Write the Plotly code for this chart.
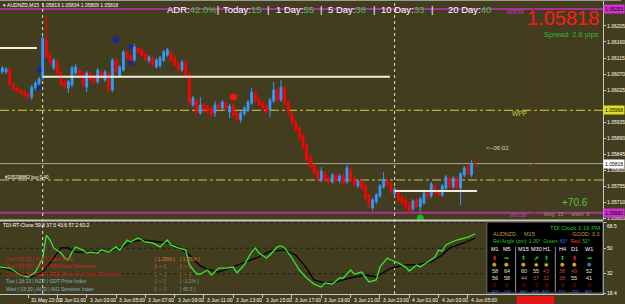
import plotly.graph_objects as go

# ---------------- data ----------------
bar_index = list(range(-12, 119))   # 15-minute bars; 0 = 3 Jun 00:00
opens = [1.06073,1.06076,1.06076,1.06084,1.06042,1.06031,1.06025,1.06019,1.06014,1.06005,1.06031,1.06042,
 1.06059,1.06166,1.06123,1.06087,1.06104,1.06076,1.06048,1.06031,1.06039,1.06073,1.06081,1.06070,1.06033,1.06073,
 1.06062,1.06048,1.06076,1.06053,1.06073,1.06025,1.06109,1.06064,1.06081,1.06132,1.06121,1.06109,1.06143,1.06138,
 1.06126,1.06107,1.06115,1.06090,1.06093,1.06109,1.06123,1.06132,1.06115,1.06101,1.06081,1.06104,1.06070,1.05983,
 1.05994,1.05960,1.05983,1.05977,1.05974,1.05960,1.05983,1.05974,1.05988,1.05963,1.05983,1.05960,1.05941,1.05958,
 1.05969,1.05988,1.06017,1.06000,1.05988,1.05980,1.05969,1.05994,1.06025,1.05997,1.06031,1.05991,1.05960,1.05935,
 1.05918,1.05896,1.05870,1.05837,1.05814,1.05797,1.05772,1.05792,1.05777,1.05766,1.05786,1.05769,1.05783,1.05766,
 1.05800,1.05777,1.05755,1.05769,1.05755,1.05730,1.05693,1.05710,1.05727,1.05752,1.05769,1.05761,1.05733,1.05744,
 1.05724,1.05716,1.05704,1.05690,1.05716,1.05696,1.05707,1.05735,1.05727,1.05755,1.05741,1.05730,1.05749,1.05777,
 1.05752,1.05777,1.05749,1.05786,1.05808,1.05786,1.05819]
highs = [1.06087,1.06093,1.06090,1.06087,1.06045,1.06036,1.06028,1.06025,1.06019,1.06039,1.06050,1.06062,
 1.06177,1.06236,1.06132,1.06115,1.06109,1.06081,1.06053,1.06053,1.06093,1.06098,1.06087,1.06076,1.06078,1.06078,
 1.06067,1.06087,1.06081,1.06081,1.06078,1.06115,1.06118,1.06095,1.06138,1.06138,1.06126,1.06155,1.06149,1.06143,
 1.06132,1.06123,1.06121,1.06115,1.06121,1.06138,1.06143,1.06138,1.06121,1.06107,1.06109,1.06109,1.06076,1.06008,
 1.06000,1.06005,1.05988,1.05983,1.05980,1.05994,1.05988,1.05997,1.05994,1.05986,1.05988,1.05966,1.05966,1.05980,
 1.05997,1.06031,1.06022,1.06005,1.05994,1.05986,1.06003,1.06048,1.06031,1.06053,1.06036,1.05997,1.05966,1.05941,
 1.05924,1.05901,1.05876,1.05842,1.05820,1.05803,1.05808,1.05797,1.05783,1.05792,1.05792,1.05789,1.05789,1.05814,
 1.05806,1.05783,1.05775,1.05775,1.05761,1.05735,1.05721,1.05735,1.05761,1.05794,1.05775,1.05766,1.05752,1.05749,
 1.05730,1.05721,1.05710,1.05718,1.05721,1.05724,1.05741,1.05741,1.05766,1.05761,1.05747,1.05761,1.05786,1.05783,
 1.05783,1.05783,1.05794,1.05811,1.05814,1.05828,1.05834]
lows = [1.06067,1.06070,1.06070,1.06036,1.06022,1.06017,1.06011,1.06005,1.06000,1.05997,1.06025,1.06036,
 1.06053,1.06115,1.06095,1.06081,1.06067,1.06036,1.06028,1.06017,1.06033,1.06067,1.06059,1.06033,1.06019,1.06048,
 1.06039,1.06042,1.06053,1.06048,1.06019,1.06019,1.06070,1.06059,1.06076,1.06112,1.06104,1.06104,1.06126,1.06115,
 1.06104,1.06101,1.06090,1.06084,1.06087,1.06104,1.06118,1.06104,1.06090,1.06076,1.06076,1.06062,1.05983,1.05977,
 1.05955,1.05955,1.05963,1.05958,1.05949,1.05949,1.05969,1.05969,1.05969,1.05946,1.05949,1.05935,1.05932,1.05952,
 1.05963,1.05983,1.05988,1.05977,1.05969,1.05958,1.05949,1.05988,1.05991,1.05991,1.05983,1.05955,1.05927,1.05907,
 1.05884,1.05859,1.05823,1.05803,1.05786,1.05772,1.05766,1.05766,1.05761,1.05761,1.05763,1.05763,1.05758,1.05761,
 1.05766,1.05752,1.05749,1.05744,1.05716,1.05693,1.05685,1.05704,1.05721,1.05747,1.05752,1.05733,1.05727,1.05710,
 1.05702,1.05690,1.05679,1.05685,1.05693,1.05682,1.05702,1.05718,1.05721,1.05730,1.05724,1.05724,1.05744,1.05747,
 1.05747,1.05744,1.05702,1.05780,1.05786,1.05780,1.05809]
closes = [1.06081,1.06087,1.06084,1.06042,1.06028,1.06022,1.06017,1.06011,1.06005,1.06033,1.06045,1.06056,
 1.06171,1.06118,1.06101,1.06109,1.06073,1.06042,1.06033,1.06048,1.06087,1.06090,1.06064,1.06039,1.06073,1.06053,
 1.06048,1.06081,1.06059,1.06076,1.06025,1.06109,1.06076,1.06090,1.06132,1.06118,1.06109,1.06146,1.06132,1.06121,
 1.06109,1.06118,1.06095,1.06109,1.06115,1.06132,1.06138,1.06109,1.06095,1.06081,1.06104,1.06067,1.05988,1.06003,
 1.05960,1.05983,1.05969,1.05963,1.05955,1.05983,1.05974,1.05991,1.05974,1.05980,1.05955,1.05941,1.05960,1.05974,
 1.05991,1.06019,1.05994,1.05983,1.05974,1.05963,1.05997,1.06025,1.05997,1.06033,1.05988,1.05960,1.05932,1.05913,
 1.05890,1.05865,1.05828,1.05808,1.05792,1.05777,1.05797,1.05772,1.05766,1.05786,1.05769,1.05783,1.05763,1.05806,
 1.05772,1.05758,1.05769,1.05749,1.05721,1.05699,1.05716,1.05730,1.05755,1.05772,1.05758,1.05738,1.05747,1.05716,
 1.05707,1.05696,1.05685,1.05713,1.05699,1.05718,1.05735,1.05724,1.05761,1.05735,1.05730,1.05755,1.05780,1.05752,
 1.05777,1.05749,1.05789,1.05806,1.05792,1.05817,1.05818]

time_tick_bars = [-12, -4, 4, 12, 20, 28, 36, 44, 52, 60, 68, 76, 84, 92, 100, 108, 116]
time_tick_labels = ["31 May 2019", "31 May 23:00", "3 Jun 01:00", "3 Jun 03:00", "3 Jun 05:00",
                    "3 Jun 07:00", "3 Jun 09:00", "3 Jun 11:00", "3 Jun 13:00", "3 Jun 15:00",
                    "3 Jun 17:00", "3 Jun 19:00", "3 Jun 21:00", "3 Jun 23:00", "4 Jun 01:00",
                    "4 Jun 03:00", "4 Jun 05:00"]
price_ticks = [1.06205, 1.06160, 1.06115, 1.06070, 1.06025, 1.05935, 1.05890,
               1.05845, 1.05800, 1.05755, 1.05710, 1.05665]

# pivot / level lines
wr38, wpp, ws38 = 1.06253, 1.05968, 1.05680
order_level = 1.05772
bid_price = 1.05818
session_levels = [1.06143, 1.06062, 1.05741]
session_from = [-12, 0, 96]
session_to = [-1.6, 94.7, 118.5]
separator_bars = [0, 96]
marker_bar = 134

# fractal / signal dots
blue_dot_bars = [-1, -1, 24, 24]
blue_dot_prices = [1.06081, 1.06031, 1.06146, 1.06101]
big_dot_bars = [20, 52, 103]
big_dot_prices = [1.06166, 1.06005, 1.05665]
big_dot_colors = ["#24249a", "#ff1010", "#10c010"]

# TDI sub-window
green_bars = [-12,-9,-6,-4,-2,0,1,2,3,5,6,7,8,9,11,12,13,15,16,18,20,21,23,24,26,28,30,32,34,35,37,39,40,42,43,45,46,48,50,52,
              53,55,57,58,59,61,62,64,65,66,68,70,72,74,76,77,79,81,82,84,85,87,89,91,92,94,95,97,99,100,102,103,105,107,108,
              109,110,111,113,115,116,118]
green_vals = [36.7,36.0,31.1,29.7,33.2,43.1,59.3,55.8,50.2,46.6,43.1,41.7,47.3,50.9,48.7,46.6,47.3,46.6,48.7,47.3,50.9,48.7,
              55.8,54.4,57.2,54.4,53.7,50.9,55.8,52.3,50.2,48.7,38.2,31.8,31.8,34.6,31.1,36.0,36.0,36.7,32.5,38.2,47.3,50.2,
              46.6,43.1,45.2,50.9,51.6,50.2,43.1,34.6,29.0,24.7,22.6,25.5,24.7,29.0,29.0,34.6,31.8,33.2,26.2,27.6,36.7,43.1,
              41.7,39.6,36.7,33.9,38.2,36.7,40.3,43.8,48.7,48.0,52.3,53.7,55.8,57.2,57.9,60.2]
black_bars = [-12,-6,-3,0,3,5,7,9,13,18,22,24,27,31,34,37,40,43,45,48,51,55,59,62,66,69,72,74,77,80,84,88,91,95,99,102,106,
              109,111,115,118]
black_vals = [36.7,32.5,29.7,33.2,43.1,50.2,50.2,47.3,47.3,48.0,50.9,54.4,55.8,54.4,53.7,50.9,45.2,37.5,35.0,33.2,36.0,39.6,
              43.8,48.0,48.7,45.2,36.0,27.6,25.5,26.2,29.0,31.1,29.7,36.0,38.2,38.2,40.3,45.2,50.2,53.7,57.2]
tdi_levels = [68, 50, 32]
tdi_ticks = [68.5, 50, 32, 18.4]
tdi_ticktext = ["", "50", "32", "18.4"]
tdi_top_label = "68.5"

# ---------------- styling helpers ----------------
W, H = 625, 304
ML, MR, MT, MB = 0, 18, 0, 10
PW, PH = W - ML - MR, H - MT - MB
BG = "#433d1f"
FONT = "Liberation Sans, Arial, sans-serif"

def px(p):
    return p / PW

def py(p):
    return 1 - p / PH

fig = go.Figure()

fig.add_trace(go.Candlestick(
    x=bar_index, open=opens, high=highs, low=lows, close=closes,
    increasing=dict(line=dict(color="#3399ff", width=1), fillcolor="#3399ff"),
    decreasing=dict(line=dict(color="#ff0000", width=1), fillcolor="#ff0000"),
    whiskerwidth=0, xaxis="x", yaxis="y", showlegend=False, hoverinfo="skip"))

fig.add_trace(go.Scatter(x=blue_dot_bars, y=blue_dot_prices, mode="markers",
                         marker=dict(color="#22229a", size=5), xaxis="x", yaxis="y",
                         showlegend=False, hoverinfo="skip"))
fig.add_trace(go.Scatter(x=big_dot_bars, y=big_dot_prices, mode="markers",
                         marker=dict(color=big_dot_colors, size=7), xaxis="x", yaxis="y",
                         showlegend=False, hoverinfo="skip"))

fig.add_trace(go.Scatter(x=black_bars, y=black_vals, mode="lines",
                         line=dict(color="#000000", width=1.3), xaxis="x", yaxis="y2",
                         showlegend=False, hoverinfo="skip"))
fig.add_trace(go.Scatter(x=green_bars, y=green_vals, mode="lines",
                         line=dict(color="#33e833", width=1.3), xaxis="x", yaxis="y2",
                         showlegend=False, hoverinfo="skip"))

shapes = []
# horizontal price levels
shapes.append(dict(type="line", xref="paper", x0=0, x1=1, yref="y", y0=wr38, y1=wr38,
                   line=dict(color="#a8329a", width=2), layer="below"))
shapes.append(dict(type="line", xref="paper", x0=0, x1=1, yref="y", y0=ws38, y1=ws38,
                   line=dict(color="#a8329a", width=2), layer="below"))
shapes.append(dict(type="line", xref="paper", x0=0, x1=1, yref="y", y0=wpp, y1=wpp,
                   line=dict(color="#d2d040", width=1, dash="dashdot"), layer="below"))
shapes.append(dict(type="line", xref="paper", x0=0, x1=1, yref="y", y0=order_level, y1=order_level,
                   line=dict(color="#d2c060", width=1, dash="dashdot"), layer="below"))
shapes.append(dict(type="line", xref="paper", x0=0, x1=1, yref="y", y0=bid_price, y1=bid_price,
                   line=dict(color="#a8a898", width=1), layer="below"))
for lv, a, b in zip(session_levels, session_from, session_to):
    shapes.append(dict(type="line", xref="x", x0=a, x1=b, yref="y", y0=lv, y1=lv,
                       line=dict(color="#f0f0e0", width=2)))
# vertical separators
for sb in separator_bars:
    shapes.append(dict(type="line", xref="x", x0=sb, x1=sb, yref="paper", y0=0, y1=1,
                       line=dict(color="#e0e0d0", width=1, dash="dot"), layer="below"))
shapes.append(dict(type="line", xref="x", x0=marker_bar, x1=marker_bar, yref="paper", y0=0, y1=1,
                   line=dict(color="#6e2a1c", width=1), layer="below"))
# TDI levels
for lv in tdi_levels:
    shapes.append(dict(type="line", xref="paper", x0=0, x1=1, yref="y2", y0=lv, y1=lv,
                       line=dict(color="#221f0c", width=1, dash="dot"), layer="below"))
# pane separator and top border
shapes.append(dict(type="line", xref="paper", x0=0, x1=1, yref="paper", y0=py(220.5), y1=py(220.5),
                   line=dict(color="#c8c8c0", width=2)))
shapes.append(dict(type="line", xref="paper", x0=0, x1=1 + MR / PW, yref="paper", y0=py(0.5), y1=py(0.5),
                   line=dict(color="#9a9a90", width=1)))
# dashboard box
shapes.append(dict(type="rect", xref="paper", x0=px(490), x1=1, yref="paper", y0=py(293), y1=py(222),
                   fillcolor="#000000", line=dict(color="#707070", width=1)))
shapes.append(dict(type="line", xref="paper", x0=px(519), x1=px(519), yref="paper", y0=py(292), y1=py(247),
                   line=dict(color="#909090", width=1)))
shapes.append(dict(type="line", xref="paper", x0=px(559), x1=px(559), yref="paper", y0=py(292), y1=py(247),
                   line=dict(color="#909090", width=1)))
# red time marker box on the time scale
shapes.append(dict(type="rect", xref="paper", x0=px(520), x1=px(558), yref="paper", y0=py(304), y1=py(296),
                   fillcolor="#e01818", line=dict(width=0)))

ann = []

def text(x, y, s, size, color, anchor="left", bg=None, family=FONT, yanchor="middle"):
    d = dict(xref="paper", yref="paper", x=px(x), y=py(y), text=s, showarrow=False,
             xanchor=anchor, yanchor=yanchor, font=dict(size=size, color=color, family=family),
             borderpad=0)
    if bg:
        d["bgcolor"] = bg
    ann.append(d)

G = "#3cc83c"
# header
text(2, 5, "▾ AUDNZD,M15  1.05819 1.05834 1.05809 1.05818", 5, "#ffffff")
text(167, 9, "ADR:<span style='color:%s'>42.0%%</span>|" % G, 9.5, "#ffffff")
text(223, 9, "Today:<span style='color:%s'>15</span>" % G, 9.5, "#ffffff")
text(268, 9, "|", 9.5, "#ffffff")
text(277, 9, "1 Day:<span style='color:%s'>55</span>" % G, 9.5, "#ffffff")
text(321, 9, "|", 9.5, "#ffffff")
text(329, 9, "5 Day:<span style='color:%s'>38</span>" % G, 9.5, "#ffffff")
text(374, 9, "|", 9.5, "#ffffff")
text(383, 9, "10 Day:<span style='color:%s'>33</span>" % G, 9.5, "#ffffff")
text(433, 9, "|", 9.5, "#ffffff")
text(450, 9, "20 Day:<span style='color:%s'>40</span>" % G, 9.5, "#ffffff")

text(604, 18, "1.05818", 20, "#ff1a1a", anchor="right")
text(604, 34, "Spread: 2.6 pips", 7.5, "#30b830", anchor="right")
text(509, 12, "WR38", 6, "#c03cc0")
text(514, 113, "WPP", 6.5, "#d0d040")
text(512, 215, "WS38", 6, "#c03cc0")
text(488, 148, "<--06:02", 6, "#d0d0c8")
text(565, 202, "+70.6", 10, "#5cc040")
text(547, 214, "long  15     short  0", 5.5, "#90a060")
text(4, 177, "#105298862 buy 0.40", 4.5, "#ffffff")

# price-scale boxes
def pricebox(p, s, bg, fg="#000000"):
    ann.append(dict(xref="paper", yref="y", x=1.0, y=p, text=s, showarrow=False, xanchor="left",
                    yanchor="middle", font=dict(size=5, color=fg, family=FONT), bgcolor=bg,
                    borderpad=1))
pricebox(wr38, "1.06253", "#d030d0")
pricebox(wpp, "1.05968", "#e0e020")
pricebox(bid_price, "1.05818", "#ffffff")
pricebox(ws38, "1.05680", "#d030d0")

# TDI scale top label (MT4 draws it just below the pane top)
text(610, 225.5, tdi_top_label, 5, "#ffffff")

# TDI window
text(2, 225, "TDI-RT-Clone 59.8 37.5 43.6 57.2 60.2", 5, "#ffffff")
news = [("Tue | 05:30 | AUD | Cash Rate", "#d02020"),
        ("Tue | 05:30 | AUD | RBA Rate Statement", "#d02020"),
        ("Tue | 05:30 | AUD | RBA Monetary Policy Statement", "#d02020"),
        ("Tue | 18:23 | NZD | GDT Price Index", "#78b4d8"),
        ("Wed | 03:30 | AUD | AIG Services Index", "#78b4d8")]
news_c1 = ["[ 1.25% ]", "[ --- ]", "[ --- ]", "[ --- ]", "[ --- ]"]
news_c2 = ["[ 1.25% ]", "[ --- ]", "[ --- ]", "[ -1.2% ]", "[ 45.5 ]"]
for k, (s, c) in enumerate(news):
    yy = 258.5 + k * 7.5
    text(5, yy, s, 5, c)
    text(155, yy, news_c1[k], 5, "#e07040" if k < 3 else "#8098a8")
    text(180, yy, news_c2[k], 5, "#e07040" if k < 3 else "#8098a8")

# dashboard
text(605, 228, "TDI Clock 1:16 PM", 6, "#20c820", anchor="right")
text(495, 234, "AUDNZD", 5.5, "#c89a40")
text(526, 234, "M15", 5.5, "#c89a40")
text(605, 234, "GOOD: 3.0", 5.5, "#c89a40", anchor="right")
text(495, 241, "Rel Angle (pm): 1.30°  Green: <span style='color:#4060ff'>60°</span>  "
               "<span style='color:#ff3030'>Red:</span> 52°", 5, "#20c820")
tf = ["M1", "M5", "M15", "M30", "H1", "H4", "D1", "W1"]
col_x = [498, 510, 527, 540, 550, 566, 578, 593]
arrows = ["⬇", "➡", "⬆", "⬈", "⬆", "⬆", "⬇", "➡"]
arrow_c = ["#ff2020", "#20c020", "#20c020", "#20c020", "#20c020", "#20c020", "#ff2020", "#20c020"]
icons = ["●", "●", "●", "◉", "◉", "●", "●", "●"]
icon_c = ["#c8a020", "#e0a020", "#e0a020", "#e0d020", "#e0d020", "#e0a020", "#e0a020", "#4a6ad0"]
row_a = ["58", "64", "60", "55", "43", "38", "49", "52"]
row_a_c = ["#e0e0c0", "#e0e0c0", "#e0e0c0", "#e0e0c0", "#c04040", "#c04040", "#c04040", "#e0e0c0"]
row_b = ["56", "58", "44", "37", "32", "38", "55", "41"]
row_b_c = ["#e0e0c0", "#e0e0c0", "#a0a0a0", "#c04040", "#c04040", "#c04040", "#e0e0c0", "#e0e0c0"]
row_c = ["0"] * 8
row_d = ["-40°", "-19°", "66°", "43°", "60°", "71°", "-70°", "60°"]
for k in range(8):
    text(col_x[k], 249, tf[k], 5.5, "#ffffff", anchor="center")
    text(col_x[k], 257, arrows[k], 6, arrow_c[k], anchor="center", family="DejaVu Sans")
    text(col_x[k], 264, icons[k], 5, icon_c[k], anchor="center", family="DejaVu Sans")
    text(col_x[k], 271, row_a[k], 5.5, row_a_c[k], anchor="center")
    text(col_x[k], 278, row_b[k], 5.5, row_b_c[k], anchor="center")
    text(col_x[k], 285, row_c[k], 5.5, "#a01010", anchor="center")
    text(col_x[k], 291.5, row_d[k], 5, "#4a6ad8", anchor="center")

# time labels (MT4 style, left aligned at the bar)
for b, s in zip(time_tick_bars, time_tick_labels):
    ann.append(dict(xref="x", yref="paper", x=b, y=py(299.5), text=s, showarrow=False,
                    xanchor="left", yanchor="middle", xshift=1,
                    font=dict(size=5, color="#ffffff", family=FONT)))

fig.update_layout(
    width=W, height=H, margin=dict(l=ML, r=MR, t=MT, b=MB, pad=0),
    paper_bgcolor=BG, plot_bgcolor=BG, showlegend=False,
    shapes=shapes, annotations=ann,
    xaxis=dict(range=[-11.65, 152.85], anchor="y2", showgrid=False, zeroline=False,
               rangeslider=dict(visible=False), showline=True, linecolor="#c8c8c0", linewidth=1,
               tickvals=time_tick_bars, ticks="outside", ticklen=3, tickcolor="#c8c8c0",
               showticklabels=False, fixedrange=True),
    yaxis=dict(domain=[py(220), 1], range=[1.056594, 1.062781], side="right", anchor="x",
               showgrid=False, zeroline=False, showline=True, linecolor="#c8c8c0", linewidth=1,
               tickvals=price_ticks, tickformat=".5f", ticks="outside", ticklen=2,
               tickcolor="#c8c8c0", tickfont=dict(size=5, color="#ffffff", family=FONT)),
    yaxis2=dict(domain=[0, py(222)], range=[17.7, 68.5], side="right", anchor="x",
                showgrid=False, zeroline=False, showline=True, linecolor="#c8c8c0", linewidth=1,
                tickvals=tdi_ticks, ticktext=tdi_ticktext, ticks="outside",
                ticklen=2, tickcolor="#c8c8c0", tickfont=dict(size=5, color="#ffffff", family=FONT)),
)

fig.write_html("out.html")
